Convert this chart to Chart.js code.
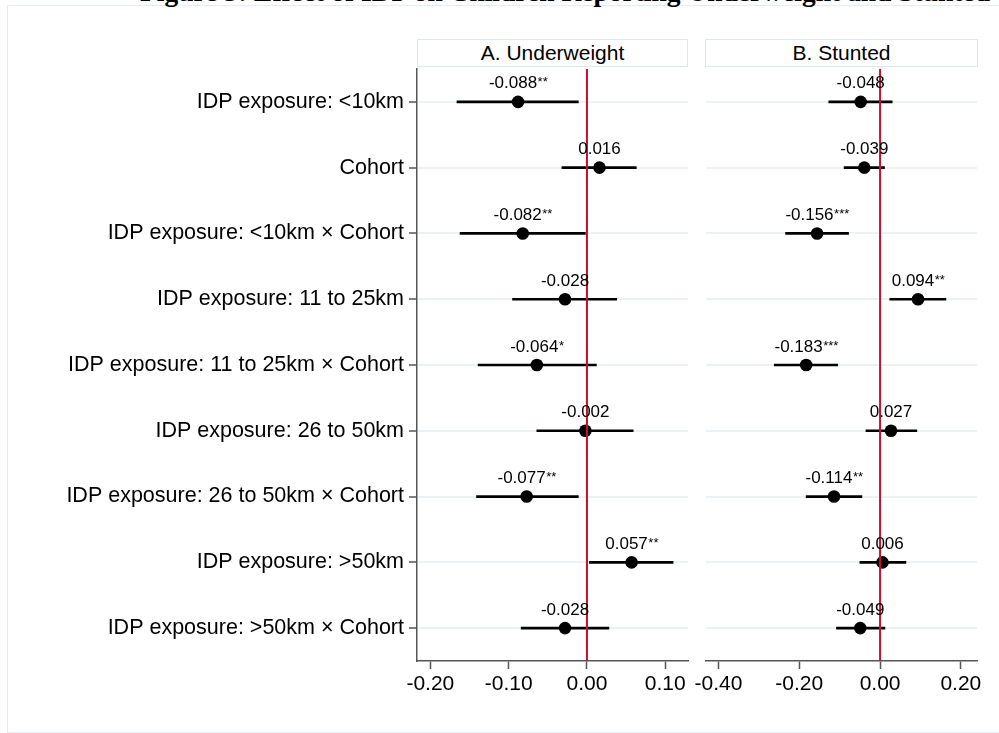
<!DOCTYPE html>
<html>

<head>
  <title>Underweight and Stunted</title>
  <script src="https://cdn.jsdelivr.net/npm/chart.js"></script>
  <style type="text/css">
    body {
      margin: 0;
      background: #fff;
      width: 999px;
      height: 733px;
      overflow: hidden;
      position: relative;
      font-family: "Liberation Sans", Arial, sans-serif;
    }
    .frame {
      position: absolute;
      left: 7px;
      top: 5px;
      width: 1010px;
      height: 726px;
      border: 1.5px solid #e6edf0;
    }
    .title {
      position: absolute;
      left: 140px;
      top: -22px;
      font-family: "Liberation Serif", serif;
      font-weight: bold;
      font-size: 27.5px;
      line-height: 27px;
      white-space: nowrap;
    }
    .head {
      position: absolute;
      top: 39px;
      height: 28px;
      border: 1.5px solid #dfe7eb;
      box-sizing: border-box;
      text-align: center;
      font-size: 21px;
      line-height: 26px;
    }
    canvas {
      position: absolute;
      top: 0;
    }
  </style>
</head>

<body>
  <div class="frame"></div>
  <div class="title">Figure 3: Effect of IDP on Children Reporting Underweight and Stunted</div>
  <div class="head" style="left:417px;width:271px;">A. Underweight</div>
  <div class="head" style="left:705px;width:273px;">B. Stunted</div>
  <div style="position:absolute;left:0;top:0;width:700px;height:733px;">
    <canvas id="chartA"></canvas>
  </div>
  <div style="position:absolute;left:690px;top:0;width:309px;height:733px;">
    <canvas id="chartB"></canvas>
  </div>

  <script>
    const rowLabels = [
      'IDP exposure: <10km',
      'Cohort',
      'IDP exposure: <10km × Cohort',
      'IDP exposure: 11 to 25km',
      'IDP exposure: 11 to 25km × Cohort',
      'IDP exposure: 26 to 50km',
      'IDP exposure: 26 to 50km × Cohort',
      'IDP exposure: >50km',
      'IDP exposure: >50km × Cohort'
    ];

    // panel A: underweight
    const underCoef = [-0.088, 0.016, -0.082, -0.028, -0.064, -0.002, -0.077, 0.057, -0.028];
    const underLo = [-0.166, -0.032, -0.162, -0.095, -0.139, -0.064, -0.141, 0.003, -0.084];
    const underHi = [-0.011, 0.063, -0.002, 0.038, 0.012, 0.059, -0.011, 0.110, 0.028];
    const underStars = ['**', '', '**', '', '*', '', '**', '**', ''];
    const underTicks = [-0.2, -0.1, 0, 0.1];

    // panel B: stunted
    const stuntCoef = [-0.048, -0.039, -0.156, 0.094, -0.183, 0.027, -0.114, 0.006, -0.049];
    const stuntLo = [-0.127, -0.089, -0.234, 0.024, -0.262, -0.035, -0.183, -0.050, -0.108];
    const stuntHi = [0.030, 0.011, -0.078, 0.163, -0.105, 0.091, -0.045, 0.064, 0.012];
    const stuntStars = ['', '', '***', '**', '***', '', '**', '', ''];
    const stuntTicks = [-0.4, -0.2, 0, 0.2];

    const axisGray = '#555555';
    const gridColor = '#ecf1f4';
    const zeroRed = '#c8102e';
    const fontFam = '"Liberation Sans", Arial, sans-serif';

    // red line at zero plus coefficient labels above each dot
    const panelExtras = {
      id: 'panelExtras',
      afterDatasetsDraw(chart, args, opts) {
        const ctx = chart.ctx;
        const xs = chart.scales.x;
        const ys = chart.scales.y;
        const area = chart.chartArea;
        const x0 = xs.getPixelForValue(0);
        ctx.save();
        ctx.strokeStyle = zeroRed;
        ctx.lineWidth = 2;
        ctx.beginPath();
        ctx.moveTo(x0, area.top);
        ctx.lineTo(x0, area.bottom);
        ctx.stroke();

        ctx.fillStyle = '#000';
        ctx.textBaseline = 'alphabetic';
        ctx.textAlign = 'left';
        opts.coef.forEach(function (c, i) {
          const main = c.toFixed(3);
          const star = opts.stars[i];
          ctx.font = '17px ' + fontFam;
          const wMain = ctx.measureText(main).width;
          ctx.font = '13px ' + fontFam;
          const wStar = star ? ctx.measureText(star).width : 0;
          const px = xs.getPixelForValue(c);
          const py = ys.getPixelForValue(i);
          const left = px - (wMain + wStar) / 2;
          ctx.font = '17px ' + fontFam;
          ctx.fillText(main, left, py - 13.5);
          if (star) {
            ctx.font = '13px ' + fontFam;
            ctx.fillText(star, left + wMain + 0.5, py - 15.5);
          }
        });
        ctx.restore();
      }
    };

    function makePanel(id, coef, lo, hi, stars, xmin, xmax, xticks, showLabels, pad) {
      const ctx = document.getElementById(id).getContext('2d');
      return new Chart(ctx, {
        type: 'bar',
        data: {
          labels: rowLabels,
          datasets: [{
            type: 'bar',
            data: lo.map((l, i) => [l, hi[i]]),
            backgroundColor: '#000',
            borderWidth: 0,
            barThickness: 2
          }, {
            type: 'scatter',
            data: coef.map((c, i) => ({ x: c, y: rowLabels[i] })),
            backgroundColor: '#000',
            borderWidth: 0,
            pointRadius: 6.3,
            pointHoverRadius: 6.3
          }]
        },
        options: {
          indexAxis: 'y',
          responsive: true,
          maintainAspectRatio: false,
          animation: false,
          layout: { padding: pad },
          plugins: {
            legend: { display: false },
            tooltip: { enabled: false },
            panelExtras: { coef: coef, stars: stars }
          },
          scales: {
            x: {
              type: 'linear',
              min: xmin,
              max: xmax,
              afterBuildTicks: function (scale) {
                scale.ticks = xticks.map(v => ({ value: v }));
              },
              afterFit: function (scale) {
                scale.height = 72;
              },
              border: { display: true, color: axisGray, width: 1.5 },
              grid: {
                drawOnChartArea: false,
                drawTicks: true,
                tickLength: 8,
                tickColor: axisGray,
                tickWidth: 1.5
              },
              ticks: {
                color: '#000',
                padding: 3,
                maxRotation: 0,
                font: { family: fontFam, size: 21 },
                callback: v => Number(v).toFixed(2)
              }
            },
            y: {
              type: 'category',
              offset: true,
              afterFit: function (scale) {
                scale.width = showLabels ? 417 : 0;
              },
              border: { display: showLabels, color: axisGray, width: 1.5 },
              grid: {
                offset: false,
                color: gridColor,
                lineWidth: 2,
                drawTicks: showLabels,
                tickLength: 8,
                tickColor: axisGray,
                tickWidth: 1.5
              },
              ticks: {
                display: showLabels,
                color: '#000',
                padding: 5,
                font: { family: fontFam, size: 21.5 }
              }
            }
          }
        },
        plugins: [panelExtras]
      });
    }

    makePanel('chartA', underCoef, underLo, underHi, underStars, -0.217, 0.129, underTicks, true,
      { left: 0, right: 12, top: 69, bottom: 0 });
    makePanel('chartB', stuntCoef, stuntLo, stuntHi, stuntStars, -0.431, 0.240, stuntTicks, false,
      { left: 16, right: 22, top: 69, bottom: 0 });
  </script>
</body>

</html>
